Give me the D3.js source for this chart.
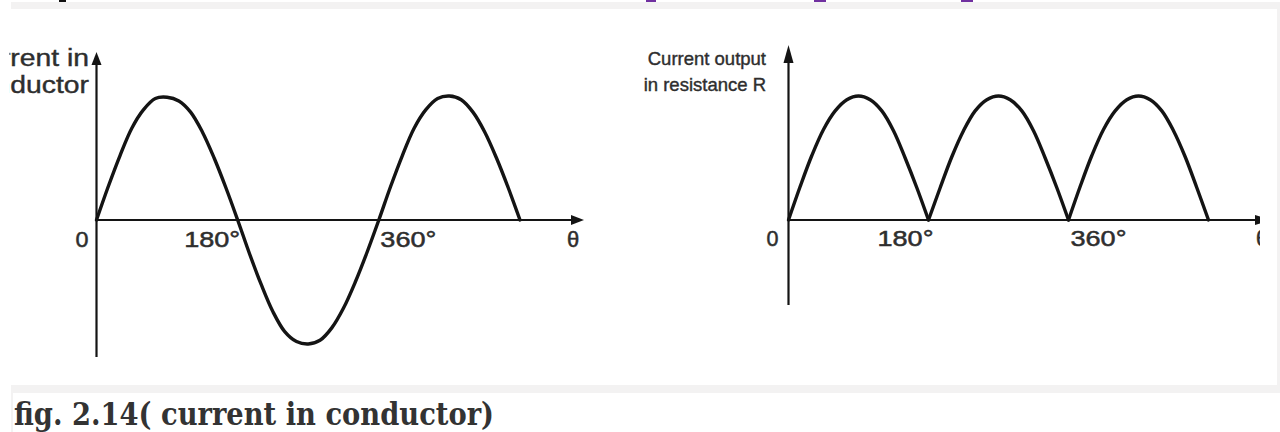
<!DOCTYPE html>
<html>
<head>
<meta charset="utf-8">
<script src="https://cdn.jsdelivr.net/npm/d3@7"></script>
<style>
    html, body { margin: 0; padding: 0; background: #fff; }
    svg { display: block; }
</style>
</head>
<body>
<svg id="chart" width="1280" height="432"></svg>
<script>
// Values: angle in degrees, current in units of the peak
const angles = [0, 15, 30, 45, 60, 75, 90, 105, 120, 135, 150, 165, 180,
    195, 210, 225, 240, 255, 270, 285, 300, 315, 330, 345, 360,
    375, 390, 405, 420, 435, 450, 465, 480, 495, 510, 525, 540];
const conductorCurrent = [0, 0.27, 0.52, 0.74, 0.89, 0.98, 0.99, 0.96, 0.87, 0.71, 0.50, 0.26, 0,
    -0.27, -0.52, -0.74, -0.90, -0.98, -1.0, -0.97, -0.87, -0.71, -0.50, -0.26, 0,
    0.27, 0.52, 0.74, 0.89, 0.98, 1.0, 0.97, 0.87, 0.71, 0.50, 0.26, 0];
const resistanceCurrent = [0, 0.27, 0.52, 0.73, 0.88, 0.97, 1.0, 0.97, 0.88, 0.72, 0.50, 0.26, 0,
    0.26, 0.51, 0.72, 0.88, 0.97, 1.0, 0.97, 0.88, 0.72, 0.50, 0.26, 0,
    0.27, 0.52, 0.73, 0.88, 0.97, 1.0, 0.97, 0.88, 0.72, 0.51, 0.26, 0];

const tickAngles = [0, 180, 360];
const tickLabels = ['0', '180°', '360°'];
const angleSymbol = 'θ';
const leftTitle = ['Current in', 'conductor'];
const rightTitle = ['Current output', 'in resistance R'];
const caption = 'fig. 2.14( current in conductor)';

const svg = d3.select('#chart');
const INK = '#141414';
const TXT = '#2e2e2e';
const PAPER = '#f3f2f2';
const SANS = '"Liberation Sans", Arial, sans-serif';

// page frame (grey bands of the surrounding document)
svg.append('rect').attr('x', 11).attr('y', 2).attr('width', 1269).attr('height', 7).attr('fill', PAPER);
svg.append('rect').attr('x', 1277).attr('y', 9).attr('width', 3).attr('height', 376).attr('fill', PAPER);
svg.append('rect').attr('x', 11).attr('y', 385).attr('width', 1269).attr('height', 8).attr('fill', PAPER);
svg.append('rect').attr('x', 11).attr('y', 393).attr('width', 2).attr('height', 39).attr('fill', PAPER);

// feet of the heading letters of the page above, cut by the top edge
[[59, 7, '#111'], [646, 10, '#7030a0'], [814, 12, '#7030a0'], [961, 12, '#7030a0']].forEach(([x, w, c]) => {
    svg.append('rect').attr('x', x).attr('y', 0).attr('width', w).attr('height', 2).attr('fill', c);
});

const defs = svg.append('defs');
defs.append('clipPath').attr('id', 'cropL')
    .append('rect').attr('x', 9.5).attr('y', 9).attr('width', 640).attr('height', 376);
defs.append('clipPath').attr('id', 'cropR')
    .append('rect').attr('x', 640).attr('y', 9).attr('width', 620).attr('height', 376);

const y = d3.scaleLinear().domain([-1, 1]).range([344, 96]);

const panels = [
    {
        clip: 'cropL',
        values: conductorCurrent,
        split: false,
        range: [96.5, 520],
        axisEnd: 584, yTop: 52, yBottom: 357, arrowW: 5, arrowH: 13,
        title: leftTitle, titleX: 89, titleY: [66, 93], titleSize: 24, titleScale: 1.18,
        ticks: [{ anchor: 'end', dx: -8 }, { anchor: 'end', dx: 2.5 }, { anchor: 'start', dx: 1.5 }],
        tickWidths: [13, 56, 56], tickY: 247,
        thetaX: 567
    },
    {
        clip: 'cropR',
        values: resistanceCurrent,
        split: true,
        range: [788.5, 1208.5],
        axisEnd: 1273, yTop: 45, yBottom: 305, arrowW: 5, arrowH: 18,
        title: rightTitle, titleX: 766, titleY: [65, 91], titleSize: 18.5, titleScale: 1.0,
        ticks: [{ anchor: 'end', dx: -10 }, { anchor: 'end', dx: 5 }, { anchor: 'start', dx: 2 }],
        tickWidths: [12, 56, 56], tickY: 246,
        thetaX: 1256
    }
];

panels.forEach(p => {
    const x = d3.scaleLinear().domain([0, 540]).range(p.range);
    const g = svg.append('g').attr('clip-path', `url(#${p.clip})`);
    const x0 = x(0), y0 = y(0);

    // axes
    g.append('line')
        .attr('x1', x0).attr('x2', p.axisEnd - p.arrowH + 2)
        .attr('y1', y0).attr('y2', y0)
        .attr('stroke', INK).attr('stroke-width', 2.2);
    g.append('line')
        .attr('x1', x0).attr('x2', x0)
        .attr('y1', p.yBottom).attr('y2', p.yTop + p.arrowH - 2)
        .attr('stroke', INK).attr('stroke-width', 2.2);

    // arrow heads
    g.append('path')
        .attr('d', `M${p.axisEnd},${y0} L${p.axisEnd - p.arrowH},${y0 - p.arrowW} L${p.axisEnd - p.arrowH},${y0 + p.arrowW}Z`)
        .attr('fill', INK);
    g.append('path')
        .attr('d', `M${x0},${p.yTop} L${x0 - p.arrowW},${p.yTop + p.arrowH} L${x0 + p.arrowW},${p.yTop + p.arrowH}Z`)
        .attr('fill', INK);

    // wave: the rectified one is drawn hump by hump so the cusps stay sharp
    const pts = p.values.map((v, i) => [angles[i], v]);
    let pieces = [pts];
    if (p.split) {
        pieces = [];
        let cur = [pts[0]];
        pts.slice(1).forEach(d => {
            cur.push(d);
            if (d[1] === 0) { pieces.push(cur); cur = [d]; }
        });
    }
    const line = d3.line()
        .x(d => x(d[0]))
        .y(d => y(d[1]))
        .curve(d3.curveCatmullRom);
    g.selectAll('path.wave').data(pieces).enter()
        .append('path')
        .attr('class', 'wave')
        .attr('d', line)
        .attr('fill', 'none')
        .attr('stroke', INK)
        .attr('stroke-width', 3.4)
        .attr('stroke-linejoin', 'round')
        .attr('stroke-linecap', 'round');

    // tick labels
    tickAngles.forEach((a, i) => {
        g.append('text')
            .attr('x', x(a) + p.ticks[i].dx)
            .attr('y', p.tickY)
            .attr('text-anchor', p.ticks[i].anchor)
            .attr('font-family', SANS)
            .attr('font-size', 22)
            .attr('fill', TXT)
            .attr('stroke', TXT).attr('stroke-width', 0.5)
            .attr('textLength', p.tickWidths[i])
            .attr('lengthAdjust', 'spacingAndGlyphs')
            .text(tickLabels[i]);
    });
    g.append('text')
        .attr('x', p.thetaX).attr('y', p.tickY)
        .attr('font-family', SANS)
        .attr('font-size', 22)
        .attr('fill', TXT)
        .attr('stroke', TXT).attr('stroke-width', 0.5)
        .text(angleSymbol);

    // axis title
    p.title.forEach((t, i) => {
        g.append('text')
            .attr('transform', `translate(${p.titleX},${p.titleY[i]}) scale(${p.titleScale},1)`)
            .attr('text-anchor', 'end')
            .attr('font-family', SANS)
            .attr('font-size', p.titleSize)
            .attr('fill', TXT)
            .attr('stroke', TXT).attr('stroke-width', 0.4)
            .text(t);
    });
});

// figure caption
svg.append('text')
    .attr('x', 14).attr('y', 425)
    .attr('font-family', '"DejaVu Serif", serif')
    .attr('font-weight', 'bold')
    .attr('font-size', 31)
    .attr('fill', '#333')
    .attr('textLength', 480)
    .attr('lengthAdjust', 'spacingAndGlyphs')
    .text(caption);
</script>
</body>
</html>
